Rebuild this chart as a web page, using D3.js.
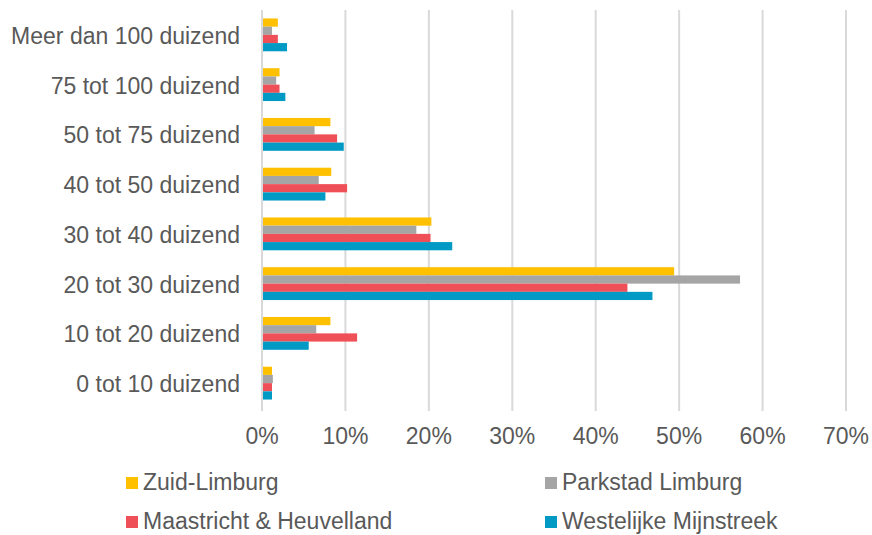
<!DOCTYPE html>
<html>
<head>
<meta charset="utf-8">
<script src="https://cdn.jsdelivr.net/npm/d3@7"></script>
<style>
  body { margin: 0; background: #fff; }
  text { font-family: "Liberation Sans", Arial, sans-serif; fill: #595959; }
</style>
</head>
<body>
<div id="chart"></div>
<script>
// categories top to bottom
const categories = ["Meer dan 100 duizend", "75 tot 100 duizend", "50 tot 75 duizend", "40 tot 50 duizend",
  "30 tot 40 duizend", "20 tot 30 duizend", "10 tot 20 duizend", "0 tot 10 duizend"];
const seriesNames = ["Zuid-Limburg", "Parkstad Limburg", "Maastricht & Heuvelland", "Westelijke Mijnstreek"];
const zuidLimburg = [1.9, 2.1, 8.2, 8.3, 20.3, 49.4, 8.2, 1.2];
const parkstad = [1.2, 1.7, 6.3, 6.8, 18.5, 57.3, 6.5, 1.3];
const maastricht = [1.9, 2.1, 9.0, 10.2, 20.2, 43.8, 11.4, 1.2];
const westelijk = [3.0, 2.8, 9.8, 7.6, 22.8, 46.8, 5.6, 1.2];
const tickValues = [0, 10, 20, 30, 40, 50, 60, 70];
const colors = ["#FFC000", "#A5A5A5", "#EF4F57", "#009AC4"];

const seriesData = [zuidLimburg, parkstad, maastricht, westelijk];

const width = 872, height = 535;
const margin = { top: 10, right: 26, bottom: 127, left: 262 };

const svg = d3.select("#chart").append("svg")
  .attr("width", width)
  .attr("height", height);

const x = d3.scaleLinear()
  .domain([0, 70])
  .range([margin.left, width - margin.right]);

const y = d3.scaleBand()
  .domain(categories)
  .range([margin.top, height - margin.bottom])
  .paddingInner(0.34)
  .paddingOuter(0.17);

const y1 = d3.scaleBand()
  .domain(d3.range(seriesNames.length))
  .range([0, y.bandwidth()]);

// gridlines
svg.append("g")
  .selectAll("line")
  .data(tickValues)
  .join("line")
  .attr("x1", d => x(d)).attr("x2", d => x(d))
  .attr("y1", margin.top).attr("y2", height - margin.bottom + 3)
  .attr("stroke", "#d9d9d9")
  .attr("stroke-width", 2);

// bars
const groups = svg.append("g")
  .selectAll("g")
  .data(categories)
  .join("g")
  .attr("transform", d => `translate(0,${y(d)})`);

groups.selectAll("rect")
  .data((c, i) => seriesData.map((s, j) => ({ s: j, v: s[i] })))
  .join("rect")
  .attr("x", x(0) + 1)
  .attr("y", d => y1(d.s))
  .attr("width", d => x(d.v) - x(0) - 1)
  .attr("height", y1.bandwidth())
  .attr("fill", d => colors[d.s]);

// category labels
svg.append("g")
  .selectAll("text")
  .data(categories)
  .join("text")
  .attr("x", 240)
  .attr("y", d => y(d) + y.bandwidth() / 2 + 1)
  .attr("dy", "0.35em")
  .attr("text-anchor", "end")
  .style("font-size", "23px")
  .text(d => d);

// x tick labels
svg.append("g")
  .selectAll("text")
  .data(tickValues)
  .join("text")
  .attr("x", d => x(d))
  .attr("y", 444)
  .attr("text-anchor", "middle")
  .style("font-size", "23px")
  .text(d => d + "%");

// legend
const legend = svg.append("g")
  .selectAll("g")
  .data(seriesNames)
  .join("g")
  .attr("transform", (d, i) => `translate(${i % 2 === 0 ? 126 : 545},${i < 2 ? 477 : 516})`);

legend.append("rect")
  .attr("width", 12).attr("height", 12)
  .attr("fill", (d, i) => colors[i]);

legend.append("text")
  .attr("x", 17)
  .attr("y", 13)
  .style("font-size", "23px")
  .text(d => d);
</script>
</body>
</html>
